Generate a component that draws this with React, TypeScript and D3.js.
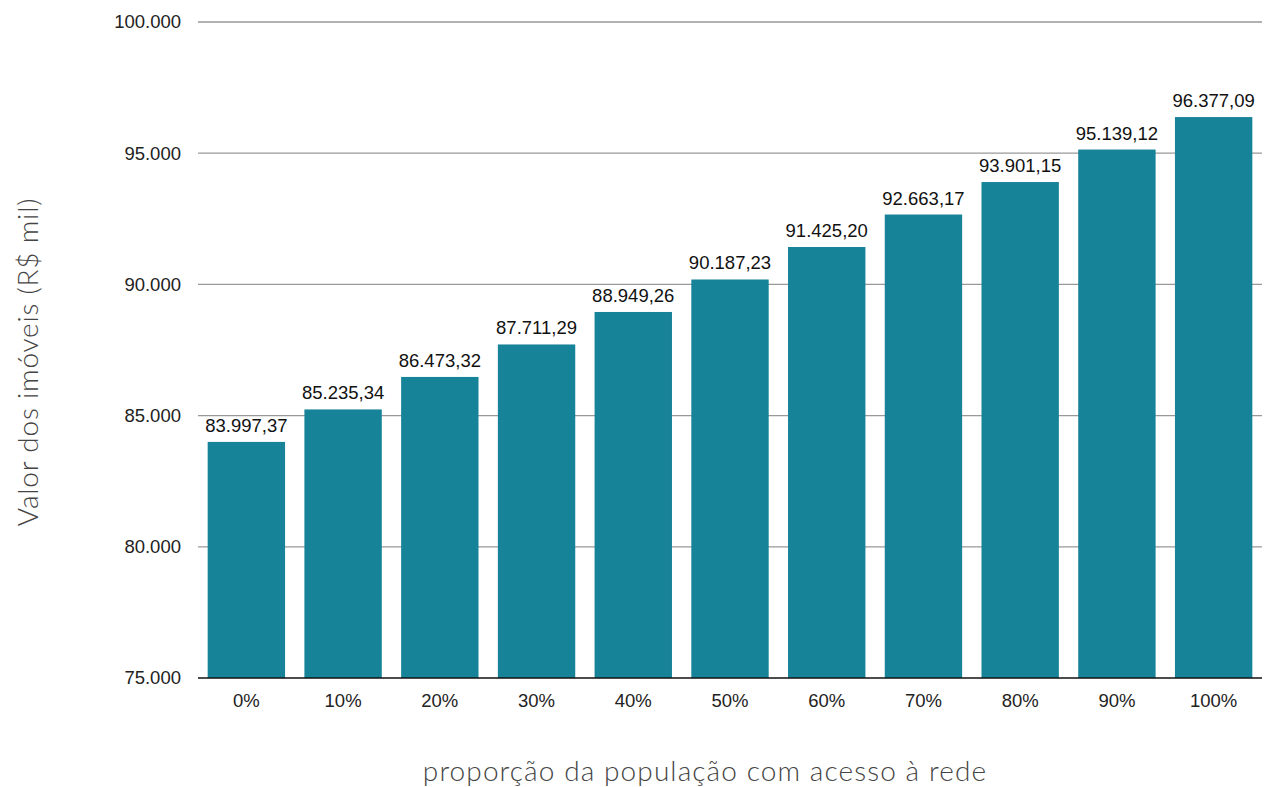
import React from "react";
import * as d3 from "d3";

const categories = ["0%", "10%", "20%", "30%", "40%", "50%", "60%", "70%", "80%", "90%", "100%"];
const values = [83997.37, 85235.34, 86473.32, 87711.29, 88949.26, 90187.23, 91425.2, 92663.17, 93901.15, 95139.12, 96377.09];
const yTicks = [75000, 80000, 85000, 90000, 95000, 100000];

const W = 1269;
const H = 787;
const left = 198;
const right = 1262;
const top = 22;
const bottom = 678;

const SANS = "'Liberation Sans', Arial, sans-serif";
const TITLE = "Lato, sans-serif";

const fmtTick = (v: number) => d3.format(",")(v).replace(/,/g, ".");
const fmtVal = (v: number) => {
  const s = d3.format(",.2f")(v);
  return s.replace(/,/g, "#").replace(/\./g, ",").replace(/#/g, ".");
};

export default function App() {
  const x = d3.scaleBand<string>().domain(categories).range([left, right]).paddingInner(0.2).paddingOuter(0.1);
  const y = d3.scaleLinear().domain([75000, 100000]).range([bottom, top]);
  return (
    <svg width={W} height={H} style={{ position: "absolute", left: 0, top: 0, background: "#fff" }}>
      {yTicks.map((t) => (
        <g key={t}>
          {t !== 75000 && <line x1={left} x2={right} y1={y(t)} y2={y(t)} stroke="#999" strokeWidth={1.3} />}
          <text x={181} y={y(t)} dy="0.35em" textAnchor="end" fontFamily={SANS} fontSize={18.5} fill="#222">
            {fmtTick(t)}
          </text>
        </g>
      ))}
      {categories.map((c, i) => (
        <g key={c}>
          <rect x={x(c)} y={y(values[i])} width={x.bandwidth()} height={bottom - y(values[i])} fill="#178399" />
          <text x={(x(c) as number) + x.bandwidth() / 2} y={y(values[i]) - 10} textAnchor="middle" fontFamily={SANS} fontSize={18.5} fill="#111">
            {fmtVal(values[i])}
          </text>
          <text x={(x(c) as number) + x.bandwidth() / 2} y={701} dy="0.35em" textAnchor="middle" fontFamily={SANS} fontSize={18.5} fill="#222">
            {c}
          </text>
        </g>
      ))}
      <line x1={left} x2={right} y1={bottom} y2={bottom} stroke="#111" strokeWidth={1.5} />
      <text transform={`translate(38,362) rotate(-90)`} textAnchor="middle" fontFamily={TITLE} fontWeight={300} fontSize={28} letterSpacing={0.8} fill="#444">
        Valor dos imóveis (R$ mil)
      </text>
      <text x={705} y={781} textAnchor="middle" fontFamily={TITLE} fontWeight={300} fontSize={28} letterSpacing={1.1} fill="#444">
        proporção da população com acesso à rede
      </text>
    </svg>
  );
}
